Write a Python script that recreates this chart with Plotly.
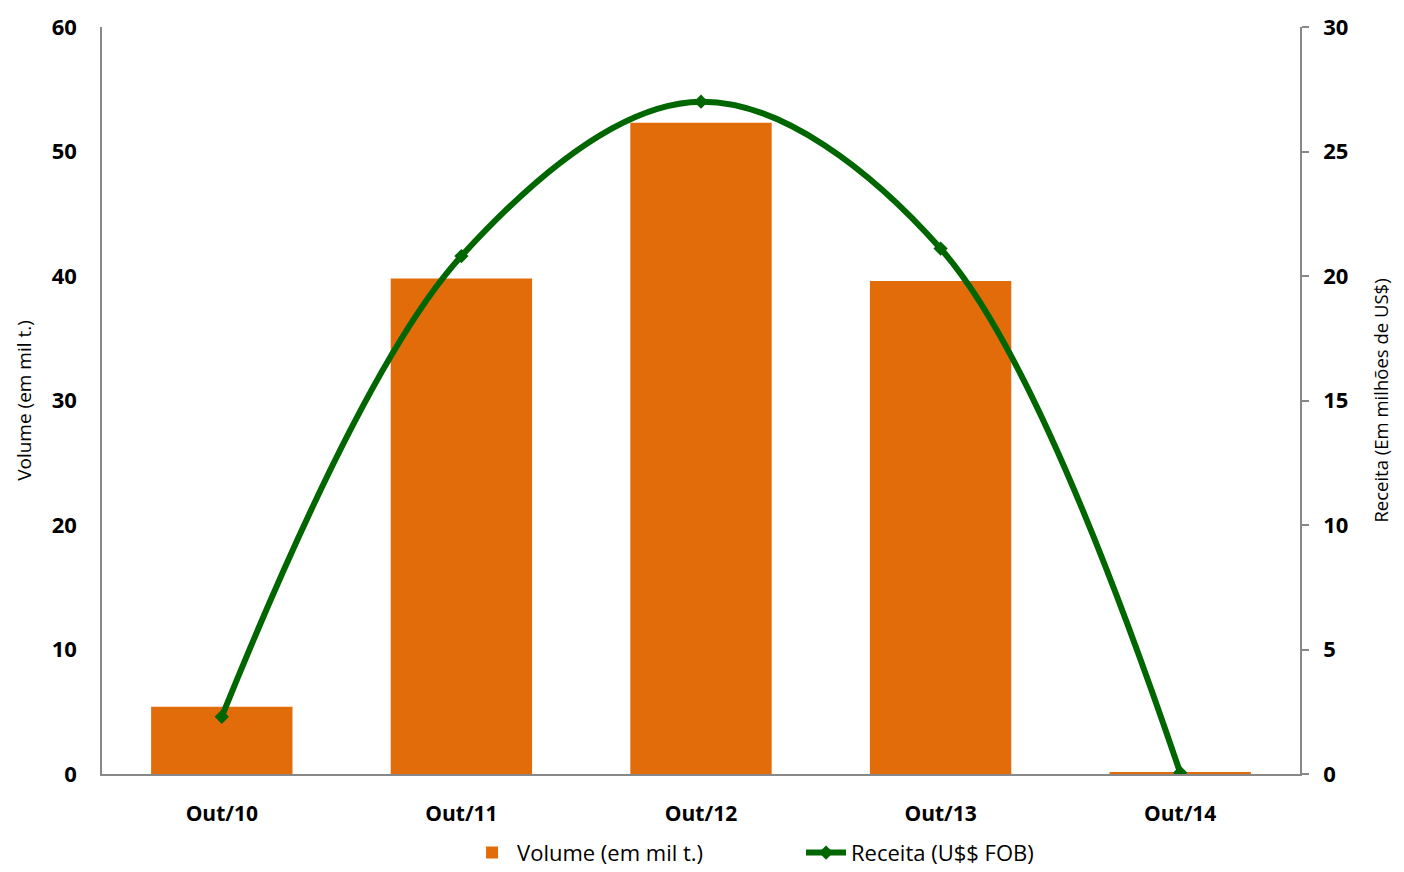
import plotly.graph_objects as go

# Monthly exports (October of each year)
meses = ["Out/10", "Out/11", "Out/12", "Out/13", "Out/14"]
volume_mil_t = [5.4, 39.8, 52.3, 39.6, 0.15]        # left axis
receita_mi_usd = [2.3, 20.8, 27.0, 21.1, 0.05]      # right axis

LARANJA = "#E36C0A"
VERDE = "#006600"
EIXO = "#888888"
FONTE = "Open Sans"

fig = go.Figure()

fig.add_trace(go.Bar(
    x=meses, y=volume_mil_t,
    name="Volume (em mil t.)",
    marker=dict(color=LARANJA, line=dict(width=0)),
    yaxis="y",
))

fig.add_trace(go.Scatter(
    x=meses, y=receita_mi_usd,
    name="Receita (U$$ FOB)",
    mode="lines+markers",
    line=dict(color=VERDE, width=6, shape="spline", smoothing=1.0),
    marker=dict(symbol="diamond", size=11, color=VERDE),
    yaxis="y2",
))

fig.update_layout(
    width=1404, height=872,
    margin=dict(l=102, r=104, t=27, b=98, autoexpand=False),
    paper_bgcolor="white", plot_bgcolor="white",
    bargap=0.41,
    font=dict(family=FONTE, color="black"),
    showlegend=True,
    legend=dict(
        orientation="h", x=0.5835, xanchor="center",
        yref="container", y=0.022, yanchor="middle",
        font=dict(size=22, family=FONTE),
        traceorder="normal",
        itemwidth=40,
        entrywidth=279,
    ),
    xaxis=dict(
        showgrid=False, showline=True, linecolor=EIXO, linewidth=1.5,
        ticks="", tickfont=dict(size=21, family=FONTE, weight="bold"),
        ticklabelstandoff=20,
    ),
    yaxis=dict(
        range=[0, 60], dtick=10, showgrid=False, zeroline=False,
        showline=True, linecolor=EIXO, linewidth=1.5, ticks="",
        tickfont=dict(size=22, family=FONTE, weight="bold"),
        ticklabelstandoff=19,
        title=dict(text="Volume (em mil t.)", font=dict(size=19, family=FONTE), standoff=15),
    ),
    yaxis2=dict(
        range=[0, 30], dtick=5, overlaying="y", side="right",
        showgrid=False, zeroline=False,
        showline=True, linecolor=EIXO, linewidth=1.5,
        ticks="outside", ticklen=7, tickcolor=EIXO, tickwidth=1.5,
        tickfont=dict(size=22, family=FONTE, weight="bold"),
        ticklabelstandoff=10,
        title=dict(text="Receita (Em milhões de US$)", font=dict(size=18.5, family=FONTE), standoff=28),
    ),
)

fig.write_html("out.html")
